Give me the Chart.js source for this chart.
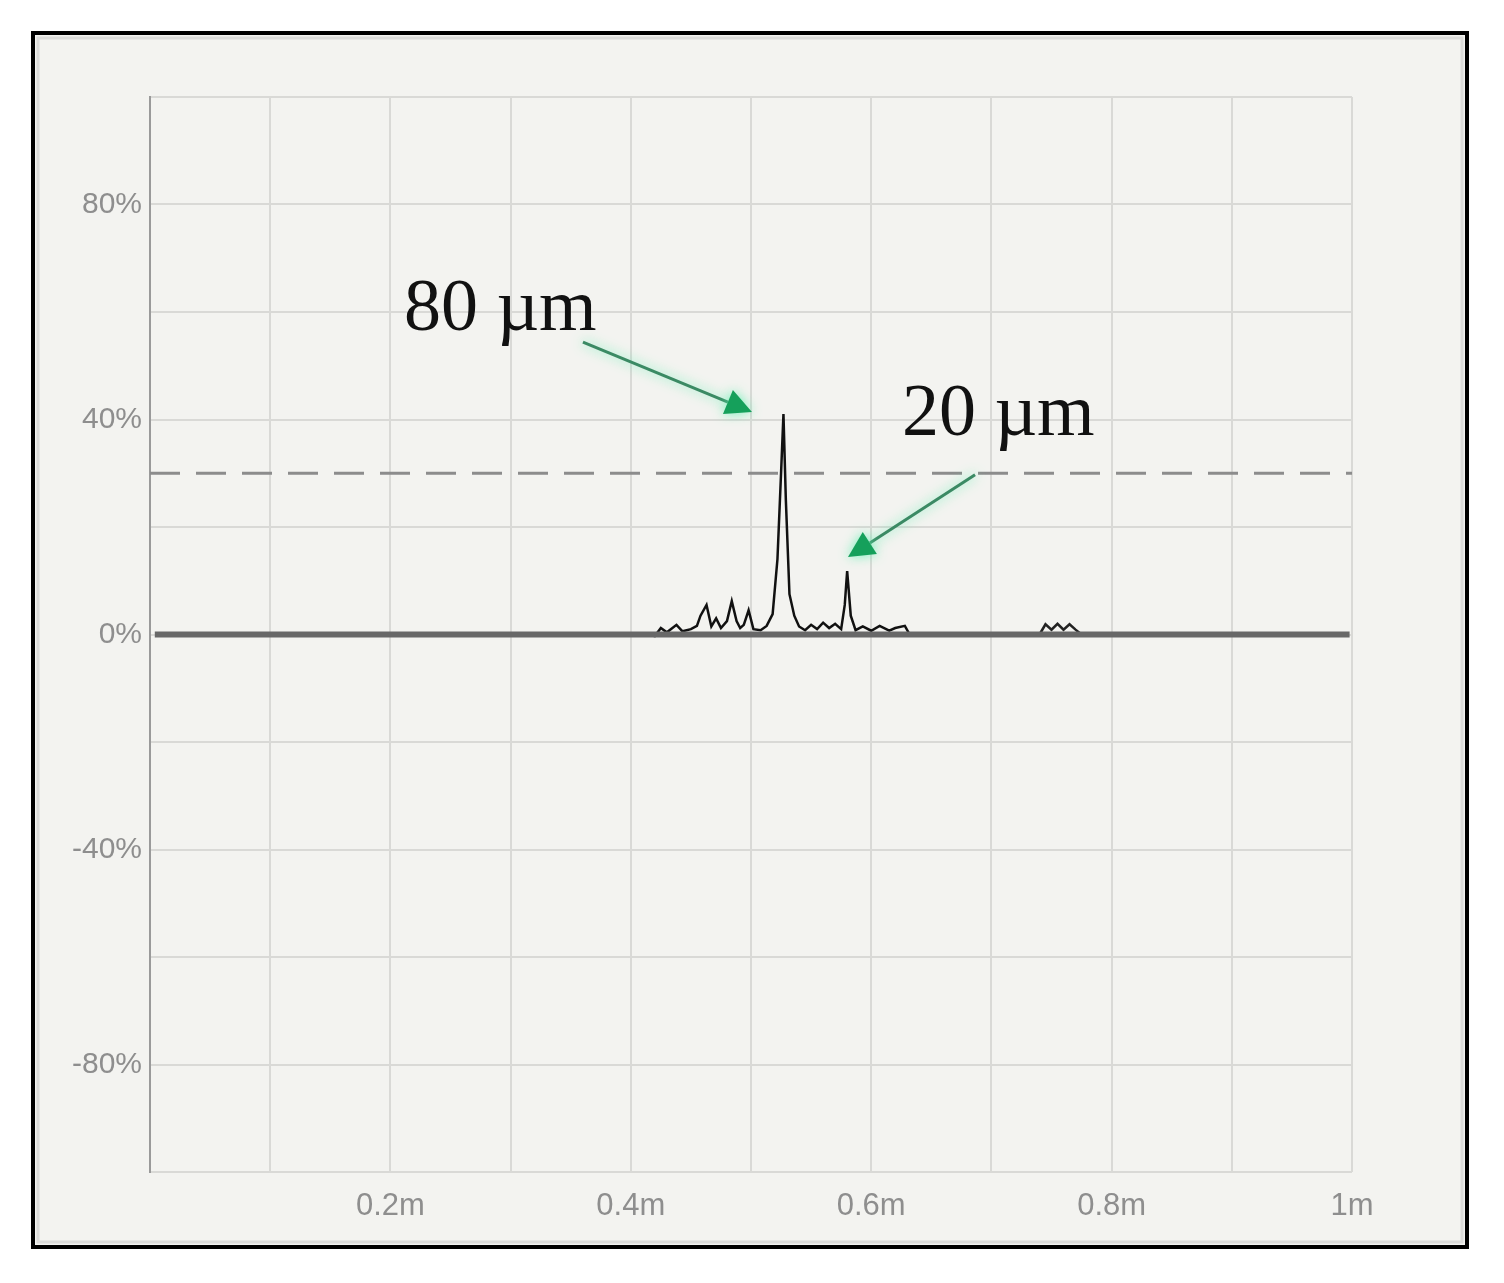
<!DOCTYPE html>
<html>
<head>
<meta charset="utf-8">
<script src="https://cdn.jsdelivr.net/npm/chart.js@4.4.1/dist/chart.umd.min.js"></script>
<style>
  html, body { margin: 0; padding: 0; background: #fff; }
  #wrap { width: 1504px; height: 1283px; }
</style>
</head>
<body>
<div id="wrap"><canvas id="c" width="1504" height="1283"></canvas></div>
<script>
// echo signal (distance in m, amplitude in %)
const signalX = [0.414, 0.420, 0.425, 0.430, 0.438, 0.443, 0.450, 0.455, 0.458, 0.463, 0.467, 0.471, 0.475,
  0.480, 0.484, 0.488, 0.491, 0.494, 0.498, 0.502, 0.508, 0.513, 0.518, 0.522, 0.525, 0.527, 0.529, 0.532,
  0.536, 0.540, 0.545, 0.550, 0.555, 0.560, 0.565, 0.570, 0.575, 0.578, 0.580, 0.583, 0.587, 0.593, 0.600,
  0.607, 0.615, 0.620, 0.628, 0.632];
const signalY = [0, -0.3, 1.2, 0.4, 1.8, 0.6, 1.0, 1.6, 3.5, 5.5, 1.5, 3, 1.2,
  2.5, 6.2, 2.5, 1.2, 1.8, 4.5, 1.0, 0.8, 1.6, 3.8, 14, 30, 41, 25, 7.5,
  3.5, 1.5, 0.8, 1.8, 1.0, 2.2, 1.2, 2.0, 1.0, 5.5, 11.8, 3.5, 0.8, 1.5, 0.7,
  1.6, 0.7, 1.2, 1.6, 0];
const farX = [0.740, 0.745, 0.750, 0.755, 0.760, 0.765, 0.770, 0.775];
const farY = [0, 1.9, 0.9, 2.0, 0.9, 1.9, 0.9, 0];

const baselineX = [0.004, 0.998];
const baselineY = [0, 0];
const thresholdX = [0, 1];
const thresholdY = [30, 30];

const yTickLabels = [-80, -40, 0, 40, 80];
const xTickLabels = [0.2, 0.4, 0.6, 0.8, 1];

// annotations: [text, textX, textY, tailX, tailY, tipX, tipY]
const notes = [
  ['80 \u00b5m', 0.2113, 56.6, 0.3602, 54.4, 0.5008, 41.4],
  ['20 \u00b5m', 0.6256, 37.1, 0.6864, 29.7, 0.5807, 14.4]
];

const pts = (xs, ys) => xs.map((x, i) => ({ x, y: ys[i] }));

const frame = {
  id: 'frame',
  beforeDraw(chart) {
    const c = chart.ctx;
    c.save();
    c.fillStyle = '#ffffff';
    c.fillRect(0, 0, chart.width, chart.height);
    c.fillStyle = '#f3f3f0';
    c.fillRect(33, 33, 1434, 1214);
    c.strokeStyle = '#dcdcda';
    c.lineWidth = 3;
    c.strokeRect(38, 38, 1424, 1204);
    c.strokeStyle = '#000';
    c.lineWidth = 4;
    c.strokeRect(33, 33, 1434, 1214);
    c.restore();
  }
};

const notesPlugin = {
  id: 'notes',
  afterDatasetsDraw(chart) {
    const c = chart.ctx;
    const xs = chart.scales.x, ys = chart.scales.y;
    notes.forEach(([txt, tx, ty, ax, ay, bx, by]) => {
      c.save();
      c.font = '74px "Liberation Serif", "DejaVu Serif", serif';
      c.fillStyle = '#111';
      c.textBaseline = 'alphabetic';
      c.textAlign = 'left';
      c.fillText(txt, xs.getPixelForValue(tx), ys.getPixelForValue(ty));
      const x1 = xs.getPixelForValue(ax), y1 = ys.getPixelForValue(ay);
      const x2 = xs.getPixelForValue(bx), y2 = ys.getPixelForValue(by);
      const ang = Math.atan2(y2 - y1, x2 - x1);
      const hl = 26, hw = 13;
      const bxp = x2 - hl * Math.cos(ang), byp = y2 - hl * Math.sin(ang);
      c.shadowColor = 'rgba(80,240,170,0.8)';
      c.shadowBlur = 12;
      c.strokeStyle = '#3b8a64';
      c.lineWidth = 3;
      c.beginPath();
      c.moveTo(x1, y1);
      c.lineTo(bxp, byp);
      c.stroke();
      c.fillStyle = '#15a05b';
      c.beginPath();
      c.moveTo(x2, y2);
      c.lineTo(bxp + hw * Math.sin(ang), byp - hw * Math.cos(ang));
      c.lineTo(bxp - hw * Math.sin(ang), byp + hw * Math.cos(ang));
      c.closePath();
      c.fill();
      c.restore();
    });
  }
};

new Chart(document.getElementById('c'), {
  type: 'scatter',
  data: {
    datasets: [
      {
        data: pts(thresholdX, thresholdY),
        showLine: true,
        borderColor: '#8c8c8c',
        borderWidth: 3,
        borderDash: [30, 16],
        pointRadius: 0,
      },
      {
        data: pts(baselineX, baselineY),
        showLine: true,
        borderColor: '#686868',
        borderWidth: 6,
        pointRadius: 0,
      },
      {
        data: pts(signalX, signalY),
        showLine: true,
        borderColor: '#111111',
        borderWidth: 2.5,
        pointRadius: 0,
        tension: 0,
      },
      {
        data: pts(farX, farY),
        showLine: true,
        borderColor: '#222222',
        borderWidth: 2.5,
        pointRadius: 0,
      }
    ]
  },
  options: {
    responsive: false,
    animation: false,
    layout: { padding: { top: 97, right: 152, left: 0, bottom: 0 } },
    plugins: {
      legend: { display: false },
      tooltip: { enabled: false },
    },
    scales: {
      x: {
        type: 'linear',
        min: 0,
        max: 1,
        afterFit(scale) { scale.height = 111; },
        border: { display: false },
        grid: { color: '#d9d9d6', lineWidth: 2, drawTicks: false },
        ticks: {
          stepSize: 0.1,
          padding: 16,
          color: '#8e8e8e',
          font: { family: 'Liberation Sans', size: 31 },
          callback(v) {
            const r = Math.round(v * 10) / 10;
            return xTickLabels.includes(r) ? r + 'm' : '';
          }
        }
      },
      y: {
        min: -100,
        max: 100,
        afterFit(scale) { scale.width = 150; },
        border: { display: true, color: '#9a9a9a', width: 2 },
        grid: { color: '#d9d9d6', lineWidth: 2, drawTicks: false },
        ticks: {
          stepSize: 20,
          padding: 8,
          color: '#8e8e8e',
          font: { family: 'Liberation Sans', size: 30 },
          callback(v) {
            return yTickLabels.includes(v) ? v + '%' : '';
          }
        }
      }
    }
  },
  plugins: [frame, notesPlugin]
});
</script>
</body>
</html>
